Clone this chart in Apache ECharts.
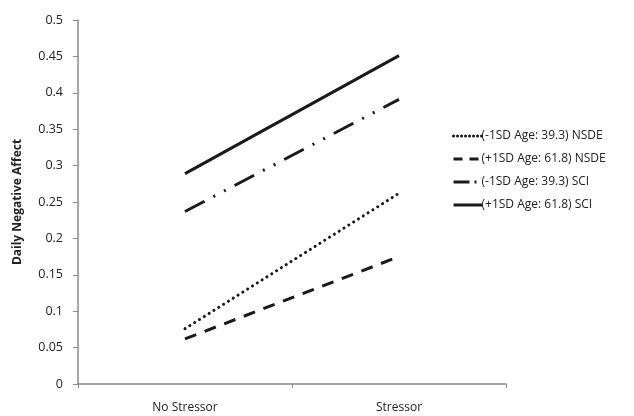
<!DOCTYPE html>
<html><head><meta charset="utf-8">
<script src="https://cdn.jsdelivr.net/npm/echarts@6/dist/echarts.min.js"></script>
<style>html,body{margin:0;padding:0;background:#fff}#c{width:634px;height:416px}</style>
</head><body><div id="c"></div>
<script>
const categories = ['No Stressor', 'Stressor'];
const seriesNames = ['(-1SD Age: 39.3) NSDE', '(+1SD Age: 61.8) NSDE', '(-1SD Age: 39.3) SCI', '(+1SD Age: 61.8) SCI'];
const youngNSDE = [0.076, 0.262];
const oldNSDE = [0.062, 0.175];
const youngSCI = [0.237, 0.391];
const oldSCI = [0.289, 0.451];
const yTicks = [0, 0.05, 0.1, 0.15, 0.2, 0.25, 0.3, 0.35, 0.4, 0.45, 0.5];

const font = 'Open Sans, Liberation Sans, sans-serif';
const ink = '#1a1a1a';
const styles = [
  {type: [0.1, 5.6], width: 3, cap: 'round', legend: [0.1, 3.9]},
  {type: [12, 9], width: 3, cap: 'butt', legend: [9, 7]},
  {type: [22, 10, 2, 10, 2, 10], width: 3, cap: 'butt', legend: [16, 5, 2, 30]},
  {type: 'solid', width: 3, cap: 'butt', legend: 'solid'}
];
const data = [youngNSDE, oldNSDE, youngSCI, oldSCI];
const chart = echarts.init(document.getElementById('c'), null, {renderer: 'canvas'});
chart.setOption({
  animation: false,
  grid: {left: 78, right: 128, top: 20, bottom: 32, containLabel: false},
  legend: {
    orient: 'vertical', left: 447, top: 125, itemGap: 11, itemWidth: 29, itemHeight: 14,
    textStyle: {fontFamily: font, fontSize: 12, color: '#222', padding: [0,0,0,-6]},
    data: seriesNames.map((n, i) => ({
      name: n,
      itemStyle: {color: ink, opacity: 0},
      lineStyle: {color: ink, width: 3, type: styles[i].legend, cap: styles[i].cap}
    }))
  },
  xAxis: {
    type: 'category', data: categories, boundaryGap: true,
    axisLine: {lineStyle: {color: '#8a8a8a', width: 1.5}},
    axisTick: {show: true, length: 4, lineStyle: {color: '#8a8a8a'}},
    axisLabel: {fontFamily: font, fontSize: 12, color: '#222', margin: 18}
  },
  yAxis: {
    type: 'value', min: 0, max: 0.5, interval: 0.05,
    name: 'Daily Negative Affect', nameLocation: 'middle', nameGap: 54,
    nameTextStyle: {fontFamily: font, fontSize: 12, fontWeight: 'bold', color: '#222'},
    axisLine: {show: true, lineStyle: {color: '#8a8a8a', width: 1.5}},
    axisTick: {show: true, length: 5, lineStyle: {color: '#8a8a8a'}},
    splitLine: {show: false},
    axisLabel: {fontFamily: font, fontSize: 12.5, color: '#222', margin: 15,
      formatter: v => { const t = yTicks.find(x => Math.abs(x - v) < 1e-9); return t === undefined ? '' : String(t); }}
  },
  series: data.map((d, i) => ({
    name: seriesNames[i], type: 'line', data: d, symbol: 'none',
    itemStyle: {color: ink},
    lineStyle: {color: ink, width: styles[i].width, type: styles[i].type, cap: styles[i].cap}
  }))
});
</script></body></html>
